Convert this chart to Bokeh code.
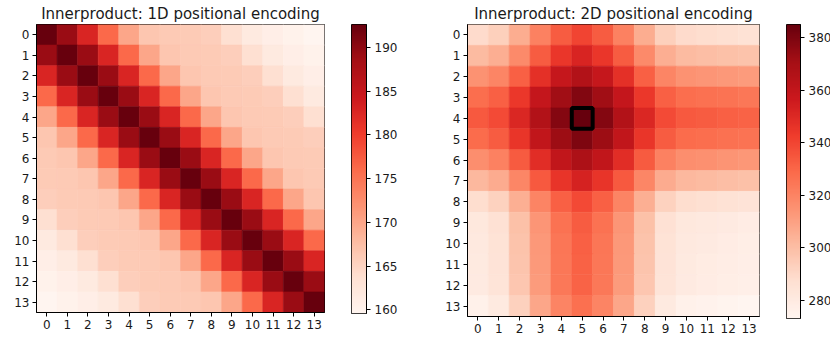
import numpy as np
from bokeh.plotting import figure
from bokeh.models import (ColumnDataSource, LinearColorMapper, LinearAxis,
                          FixedTicker, Range1d)
from bokeh.layouts import row
from bokeh.transform import transform
from bokeh.embed import file_html
from bokeh.resources import INLINE

# ---- data -----------------------------------------------------------------
positions = list(range(14))

# inner products of 1D sinusoidal positional encodings (position i vs j)
inner_1d = [
    [192.6, 189.2, 182.8, 176.2, 170.0, 166.6, 166.3, 166.1, 165.7, 163.8, 161.8, 160.9, 160.3, 159.6],
    [189.2, 192.6, 189.2, 182.8, 176.2, 170.0, 166.6, 166.3, 166.1, 165.7, 163.8, 161.8, 160.9, 160.3],
    [182.8, 189.2, 192.6, 189.2, 182.8, 176.2, 170.0, 166.6, 166.3, 166.1, 165.7, 163.8, 161.8, 160.9],
    [176.2, 182.8, 189.2, 192.6, 189.2, 182.8, 176.2, 170.0, 166.6, 166.3, 166.1, 165.7, 163.8, 161.8],
    [170.0, 176.2, 182.8, 189.2, 192.6, 189.2, 182.8, 176.2, 170.0, 166.6, 166.3, 166.1, 165.7, 163.8],
    [166.6, 170.0, 176.2, 182.8, 189.2, 192.6, 189.2, 182.8, 176.2, 170.0, 166.6, 166.3, 166.1, 165.7],
    [166.3, 166.6, 170.0, 176.2, 182.8, 189.2, 192.6, 189.2, 182.8, 176.2, 170.0, 166.6, 166.3, 166.1],
    [166.1, 166.3, 166.6, 170.0, 176.2, 182.8, 189.2, 192.6, 189.2, 182.8, 176.2, 170.0, 166.6, 166.3],
    [165.7, 166.1, 166.3, 166.6, 170.0, 176.2, 182.8, 189.2, 192.6, 189.2, 182.8, 176.2, 170.0, 166.6],
    [163.8, 165.7, 166.1, 166.3, 166.6, 170.0, 176.2, 182.8, 189.2, 192.6, 189.2, 182.8, 176.2, 170.0],
    [161.8, 163.8, 165.7, 166.1, 166.3, 166.6, 170.0, 176.2, 182.8, 189.2, 192.6, 189.2, 182.8, 176.2],
    [160.9, 161.8, 163.8, 165.7, 166.1, 166.3, 166.6, 170.0, 176.2, 182.8, 189.2, 192.6, 189.2, 182.8],
    [160.3, 160.9, 161.8, 163.8, 165.7, 166.1, 166.3, 166.6, 170.0, 176.2, 182.8, 189.2, 192.6, 189.2],
    [159.6, 160.3, 160.9, 161.8, 163.8, 165.7, 166.1, 166.3, 166.6, 170.0, 176.2, 182.8, 189.2, 192.6],
]

# inner products of the 2D encoding at the query patch against every patch
inner_2d = [
    [289.0, 293.5, 306.0, 321.0, 333.0, 340.0, 333.0, 321.0, 306.0, 293.5, 289.0, 288.0, 287.0, 286.0],
    [301.0, 305.5, 318.0, 333.0, 345.0, 352.0, 345.0, 333.0, 318.0, 305.5, 301.0, 300.0, 299.0, 298.0],
    [315.0, 319.5, 332.0, 347.0, 359.0, 366.0, 359.0, 347.0, 332.0, 319.5, 315.0, 314.0, 313.0, 312.0],
    [327.5, 332.0, 344.5, 359.5, 371.5, 378.5, 371.5, 359.5, 344.5, 332.0, 327.5, 326.5, 325.5, 324.5],
    [334.0, 338.5, 351.0, 366.0, 378.0, 385.0, 378.0, 366.0, 351.0, 338.5, 334.0, 333.0, 332.0, 331.0],
    [328.5, 333.0, 345.5, 360.5, 372.5, 379.5, 372.5, 360.5, 345.5, 333.0, 328.5, 327.5, 326.5, 325.5],
    [316.5, 321.0, 333.5, 348.5, 360.5, 367.5, 360.5, 348.5, 333.5, 321.0, 316.5, 315.5, 314.5, 313.5],
    [302.0, 306.5, 319.0, 334.0, 346.0, 353.0, 346.0, 334.0, 319.0, 306.5, 302.0, 301.0, 300.0, 299.0],
    [288.0, 292.5, 305.0, 320.0, 332.0, 339.0, 332.0, 320.0, 305.0, 292.5, 288.0, 287.0, 286.0, 285.0],
    [282.0, 286.5, 299.0, 314.0, 326.0, 333.0, 326.0, 314.0, 299.0, 286.5, 282.0, 281.0, 280.0, 279.0],
    [281.0, 285.5, 298.0, 313.0, 325.0, 332.0, 325.0, 313.0, 298.0, 285.5, 281.0, 280.0, 279.0, 278.0],
    [280.5, 285.0, 297.5, 312.5, 324.5, 331.5, 324.5, 312.5, 297.5, 285.0, 280.5, 279.5, 278.5, 277.5],
    [280.0, 284.5, 297.0, 312.0, 324.0, 331.0, 324.0, 312.0, 297.0, 284.5, 280.0, 279.0, 278.0, 277.0],
    [276.0, 280.5, 293.0, 308.0, 320.0, 327.0, 320.0, 308.0, 293.0, 280.5, 276.0, 275.0, 274.0, 273.0],
]

# the query patch (row, column) of the 2D map
query_row = 4
query_col = 5

colorbar_ticks_1d = [160, 165, 170, 175, 180, 185, 190]
colorbar_ticks_2d = [280, 300, 320, 340, 360, 380]

# ---- colour map: "Reds", light to dark ---------------------------------------
REDS_ANCHORS = ["#fff5f0", "#fee0d2", "#fcbba1", "#fc9272", "#fb6a4a",
                "#ef3b2c", "#cb181d", "#a50f15", "#67000d"]


def smooth_palette(anchors, n=256):
    rgb = np.array([[int(c[i:i + 2], 16) for i in (1, 3, 5)] for c in anchors], float)
    stops = np.linspace(0, 1, len(anchors))
    t = np.linspace(0, 1, n)
    out = np.stack([np.interp(t, stops, rgb[:, k]) for k in range(3)], axis=1)
    return ["#%02x%02x%02x" % tuple(int(round(v)) for v in c) for c in out]


REDS = smooth_palette(REDS_ANCHORS)

FONT = "DejaVu Sans"
TEXT = "#1a1a1a"
TICK_FONT_SIZE = "12px"


def style_axis(ax):
    ax.major_label_text_font = FONT
    ax.major_label_text_font_size = TICK_FONT_SIZE
    ax.major_label_text_color = TEXT
    ax.axis_line_color = "black"
    ax.major_tick_line_color = "black"
    ax.major_tick_in = 0
    ax.major_tick_out = 4
    ax.minor_tick_line_color = None
    ax.major_label_standoff = 3


def heatmap(matrix, title, border_left, frame, border_top, border_bottom):
    n = len(positions)
    cols, rows, vals = [], [], []
    for i in range(n):
        for j in range(n):
            rows.append(positions[i])
            cols.append(positions[j])
            vals.append(matrix[i][j])
    src = ColumnDataSource(dict(col=cols, row=rows, value=vals))
    mapper = LinearColorMapper(palette=REDS, low=min(vals), high=max(vals))

    p = figure(frame_width=frame, frame_height=frame,
               x_range=Range1d(-0.5, n - 0.5), y_range=Range1d(n - 0.5, -0.5),
               output_backend="svg", toolbar_location=None,
               min_border_left=border_left, min_border_right=27,
               min_border_top=border_top, min_border_bottom=border_bottom)
    p.rect(x="col", y="row", width=1, height=1, source=src,
           fill_color=transform("value", mapper),
           line_color=transform("value", mapper), line_width=0.6)

    p.title.text = title
    p.title.align = "center"
    p.title.text_font = FONT
    p.title.text_font_size = "15px"
    p.title.text_font_style = "normal"
    p.title.text_color = TEXT
    p.title.standoff = 4

    p.grid.visible = False
    p.outline_line_color = "black"
    p.outline_line_width = 1
    for ax in (p.xaxis, p.yaxis):
        ax.ticker = FixedTicker(ticks=positions)
        style_axis(ax)
    return p, mapper


def colorbar(mapper, ticks, bar_width, frame_height, border_top,
             border_bottom, border_right):
    lo, hi = mapper.low, mapper.high
    cb = figure(frame_width=bar_width, frame_height=frame_height,
                x_range=Range1d(0, 1), y_range=Range1d(lo, hi),
                x_axis_location=None, y_axis_location=None, title=None,
                output_backend="svg", toolbar_location=None,
                min_border_left=0, min_border_right=border_right,
                min_border_top=border_top, min_border_bottom=border_bottom)
    scale = np.linspace(lo, hi, 512).reshape(-1, 1)
    cb.image(image=[scale], x=0, y=lo, dw=1, dh=hi - lo, color_mapper=mapper)
    cb.grid.visible = False
    cb.outline_line_color = "black"
    cb.outline_line_width = 1
    axis = LinearAxis(ticker=FixedTicker(ticks=ticks))
    style_axis(axis)
    axis.major_label_standoff = 4
    cb.add_layout(axis, "right")
    return cb


p1, m1 = heatmap(inner_1d, "Innerproduct: 1D positional encoding", 36, 288, 23, 30)
cb1 = colorbar(m1, colorbar_ticks_1d, 15, 289, 23, 30, 54)

p2, m2 = heatmap(inner_2d, "Innerproduct: 2D positional encoding", 47, 292, 22, 27)
cb2 = colorbar(m2, colorbar_ticks_2d, 14, 294, 21, 26, 30)

# outline the query patch
p2.rect(x=[query_col], y=[query_row], width=1, height=1,
        fill_color=None, line_color="black", line_width=4)

layout = row(p1, cb1, p2, cb2)
with open("out.html", "w") as f:
    f.write(file_html(layout, INLINE))
